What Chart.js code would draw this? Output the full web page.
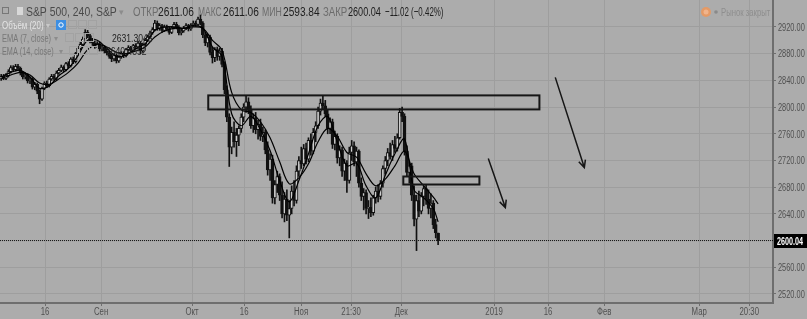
<!DOCTYPE html>
<html>
<head>
<meta charset="utf-8">
<script src="https://cdn.jsdelivr.net/npm/chart.js@4.4.0/dist/chart.umd.min.js"></script>
<style>
  html, body { margin: 0; padding: 0; background: #acacac; }
  #wrap { position: relative; width: 807px; height: 319px; }
</style>
</head>
<body>
<div id="wrap"><canvas id="chart"></canvas></div>
<script>
// S&P 500, 240 min bars (two per session)
const opens = [2842,2846,2843,2847,2853,2859,2856,2861,2858,2851,2845,2848,2839,2842,2830,2834,2824,2812,2828,2836,
  2832,2842,2846,2843,2851,2855,2860,2856,2865,2862,2872,2868,2880,2888,2894,2902,2912,2907,2899,2896,
  2891,2895,2887,2890,2884,2881,2876,2872,2878,2869,2875,2880,2877,2886,2889,2885,2892,2890,2896,2884,
  2894,2900,2905,2911,2916,2926,2918,2922,2915,2920,2917,2912,2919,2924,2920,2911,2914,2918,2922,2917,
  2923,2926,2924,2932,2926,2908,2896,2905,2882,2874,2886,2876,2884,2864,2826,2785,2740,2762,2748,2758,
  2768,2785,2800,2808,2795,2772,2784,2766,2774,2756,2762,2736,2706,2722,2664,2684,2696,2668,2640,2662,
  2638,2648,2674,2660,2704,2720,2715,2738,2722,2750,2734,2762,2772,2794,2806,2802,2790,2768,2778,2744,
  2756,2724,2736,2704,2716,2690,2732,2742,2718,2734,2686,2666,2672,2648,2650,2642,2664,2674,2666,2686,
  2708,2720,2732,2726,2744,2738,2754,2792,2786,2734,2702,2712,2668,2632,2660,2644,2666,2678,2662,2648,
  2656,2624,2611.06];
const highs = [2849,2849,2850,2856,2862,2862,2864,2864,2860,2853,2851,2850,2845,2844,2837,2836,2826,2830,2838,2839,
  2844,2849,2849,2854,2858,2863,2862,2867,2868,2874,2875,2882,2891,2897,2905,2916,2915,2909,2903,2899,
  2898,2897,2893,2892,2887,2884,2879,2880,2880,2877,2883,2883,2888,2892,2891,2894,2895,2899,2898,2896,
  2903,2908,2914,2919,2930,2929,2925,2924,2923,2923,2920,2921,2927,2927,2922,2917,2921,2925,2924,2925,
  2929,2929,2935,2938,2928,2912,2909,2908,2890,2889,2890,2888,2888,2868,2832,2790,2770,2778,2768,2772,
  2790,2805,2816,2814,2802,2790,2792,2780,2782,2770,2766,2748,2730,2728,2690,2704,2700,2688,2672,2676,
  2660,2682,2690,2712,2726,2740,2744,2746,2754,2760,2768,2778,2800,2812,2817,2810,2796,2784,2782,2764,
  2760,2742,2740,2722,2720,2740,2750,2748,2740,2736,2694,2678,2676,2660,2664,2668,2680,2684,2690,2712,
  2726,2738,2746,2750,2756,2760,2798,2800,2790,2742,2718,2716,2682,2668,2674,2672,2682,2684,2676,2670,
  2660,2632,2611.06];
const lows = [2840,2841,2841,2845,2851,2854,2854,2855,2848,2842,2842,2836,2835,2827,2826,2820,2805,2810,2826,2829,
  2830,2840,2840,2841,2849,2853,2853,2854,2859,2860,2865,2866,2878,2886,2892,2900,2904,2896,2893,2888,
  2889,2884,2884,2881,2878,2873,2868,2869,2866,2867,2873,2874,2875,2884,2882,2883,2887,2888,2880,2882,
  2892,2898,2903,2909,2914,2915,2915,2912,2913,2914,2909,2910,2917,2917,2908,2908,2912,2916,2914,2915,
  2921,2921,2922,2923,2904,2892,2890,2878,2866,2868,2870,2870,2860,2820,2778,2711,2730,2740,2726,2742,
  2762,2778,2792,2790,2768,2762,2760,2752,2750,2748,2730,2698,2690,2656,2655,2672,2660,2634,2628,2630,
  2604,2640,2652,2656,2696,2708,2712,2715,2718,2728,2730,2748,2768,2788,2796,2786,2760,2760,2738,2736,
  2716,2712,2696,2690,2672,2686,2720,2712,2696,2680,2660,2646,2640,2633,2636,2638,2656,2658,2662,2680,
  2700,2712,2722,2720,2732,2734,2752,2778,2728,2696,2686,2660,2622,2585,2636,2640,2652,2654,2640,2634,
  2618,2604,2593.84];
const closes = [2846,2843,2847,2853,2859,2856,2861,2858,2851,2845,2848,2839,2842,2830,2834,2824,2812,2828,2836,2832,
  2842,2846,2843,2851,2855,2860,2856,2865,2862,2872,2868,2880,2888,2894,2902,2912,2907,2899,2896,2891,
  2895,2887,2890,2884,2881,2876,2872,2878,2869,2875,2880,2877,2886,2889,2885,2892,2890,2896,2884,2894,
  2900,2905,2911,2916,2926,2918,2922,2915,2920,2917,2912,2919,2924,2920,2911,2914,2918,2922,2917,2923,
  2926,2924,2932,2926,2908,2896,2905,2882,2874,2886,2876,2884,2864,2826,2785,2740,2762,2748,2758,2768,
  2785,2800,2808,2795,2772,2784,2766,2774,2756,2762,2736,2706,2722,2664,2684,2696,2668,2640,2662,2638,
  2648,2674,2660,2704,2720,2715,2738,2722,2750,2734,2762,2772,2794,2806,2802,2790,2768,2778,2744,2756,
  2724,2736,2704,2716,2690,2732,2742,2718,2734,2686,2666,2672,2648,2650,2642,2664,2674,2666,2686,2708,
  2720,2732,2726,2744,2738,2754,2792,2786,2734,2702,2712,2668,2632,2660,2644,2666,2678,2662,2648,2656,
  2624,2612,2600.04];

// EMA readings, every 4th bar
const emaBars = [0,4,8,12,16,20,24,28,32,36,40,44,48,52,56,60,64,68,72,76,80,84,88,92,96,100,104,108,112,116,120,124,128,132,136,140,144,148,152,156,160,164,168,172,176,180,182];
const ema7 = [2845,2852,2855,2845,2828,2832,2847,2858,2877,2900,2900,2888,2876,2878,2887,2895,2915,2920,2920,2918,2922,2918,2890,2876,2790,2772,2786,2766,2735,2690,2658,2690,2730,2772,2786,2748,2712,2716,2682,2664,2698,2730,2752,2676,2664,2648,2628];
const ema14 = [2843,2848,2852,2848,2836,2834,2842,2852,2866,2886,2894,2890,2882,2880,2884,2890,2905,2914,2918,2918,2920,2918,2900,2885,2822,2796,2792,2778,2754,2718,2685,2694,2715,2748,2768,2756,2732,2725,2700,2682,2692,2712,2734,2700,2682,2665,2655];

const lastPrice = 2600.04;
const priceTicks = [2520, 2560, 2600, 2640, 2680, 2720, 2760, 2800, 2840, 2880, 2920];
const timeTicks = [18.25, 41.6, 79.5, 101.2, 124.9, 145.75, 166.6, 205.3, 227.8, 251.2, 290.75, 311.6];
const timeLabels = ["16", "Сен", "Окт", "16", "Ноя", "21:30", "Дек", "2019", "16", "Фев", "Мар", "20:30"];

// drawings (bar index, price)
const boxes = [[86.25, 2817.5, 224.2, 2796.5], [167.5, 2696, 199.2, 2684]];
const arrows = [[230.8, 2844.5, 242.9, 2709.5], [202.9, 2723, 210, 2649.5]];

const FONT = "'Liberation Sans', Arial, sans-serif";
const bars = closes.map((c, i) => i);

// narrow text, like the terminal font
function txt(ctx, t, x, y, sx, align) {
  ctx.save();
  ctx.translate(x, y);
  ctx.scale(sx, 1);
  ctx.textAlign = align || "left";
  ctx.fillText(t, 0, 0);
  ctx.restore();
}

const overlay = {
  id: "overlay",
  afterDatasetsDraw(chart) {
    const { ctx, scales: { x, y } } = chart;
    ctx.save();
    ctx.strokeStyle = "#161616";
    ctx.lineWidth = 2;
    boxes.forEach(b => {
      const x0 = x.getPixelForValue(b[0]), x1 = x.getPixelForValue(b[2]);
      const y0 = y.getPixelForValue(b[1]), y1 = y.getPixelForValue(b[3]);
      ctx.strokeRect(x0, y0, x1 - x0, y1 - y0);
    });
    ctx.lineWidth = 1.5;
    arrows.forEach(a => {
      const x0 = x.getPixelForValue(a[0]), y0 = y.getPixelForValue(a[1]);
      const x1 = x.getPixelForValue(a[2]), y1 = y.getPixelForValue(a[3]);
      const ang = Math.atan2(y1 - y0, x1 - x0);
      ctx.beginPath();
      ctx.moveTo(x0, y0);
      ctx.lineTo(x1, y1);
      ctx.moveTo(x1 - 8 * Math.cos(ang - 0.45), y1 - 8 * Math.sin(ang - 0.45));
      ctx.lineTo(x1, y1);
      ctx.lineTo(x1 - 8 * Math.cos(ang + 0.45), y1 - 8 * Math.sin(ang + 0.45));
      ctx.stroke();
    });
    ctx.restore();
  },
  afterDraw(chart) {
    const { ctx, scales: { x, y } } = chart;
    ctx.save();
    ctx.textBaseline = "middle";

    // axis labels
    ctx.font = "10px " + FONT;
    ctx.fillStyle = "#505050";
    priceTicks.forEach(v => txt(ctx, v.toFixed(2), 778, y.getPixelForValue(v) + 1, 0.74));
    timeTicks.forEach((v, i) => txt(ctx, timeLabels[i], x.getPixelForValue(v), 312, 0.78, "center"));

    // last price label on the axis
    const py = Math.round(y.getPixelForValue(lastPrice));
    ctx.fillStyle = "#000";
    ctx.fillRect(774, py - 7, 33, 14);
    ctx.fillStyle = "#fff";
    ctx.font = "bold 10px " + FONT;
    txt(ctx, lastPrice.toFixed(2), 777, py + 1, 0.72);

    // header
    ctx.textBaseline = "alphabetic";
    const seg = (t, px, py2, col, f, sx) => { ctx.font = f; ctx.fillStyle = col; txt(ctx, t, px, py2, sx); };
    ctx.strokeStyle = "#777";
    ctx.lineWidth = 1;
    ctx.strokeRect(2.5, 7.5, 6, 6);
    ctx.fillStyle = "#d8d8d8";
    ctx.fillRect(17, 7, 6, 8);
    const f1 = "13px " + FONT;
    seg("S&P 500, 240, S&P", 26, 16, "#4a4a4a", f1, 0.8);
    seg("▾", 119, 15, "#8c8c8c", "9px " + FONT, 1);
    seg("ОТКР", 133, 16, "#6c6c6c", f1, 0.74);
    seg("2611.06", 158, 16, "#1e1e1e", f1, 0.78);
    seg("МАКС", 198, 16, "#6c6c6c", f1, 0.65);
    seg("2611.06", 223, 16, "#1e1e1e", f1, 0.78);
    seg("МИН", 262, 16, "#6c6c6c", f1, 0.67);
    seg("2593.84", 283, 16, "#1e1e1e", f1, 0.78);
    seg("ЗАКР", 323, 16, "#6c6c6c", f1, 0.74);
    seg("2600.04", 348, 16, "#1e1e1e", f1, 0.7);
    seg("−11.02 (−0.42%)", 385, 16, "#1e1e1e", f1, 0.61);

    const f2 = "11px " + FONT;
    seg("Объём (20)", 2, 29, "#e4e4e4", f2, 0.72);
    seg("▾", 46, 28, "#c8c8c8", "8px " + FONT, 1);
    ctx.fillStyle = "#3d8fe3";
    ctx.fillRect(56, 20, 10, 10);
    ctx.strokeStyle = "#fff";
    ctx.beginPath(); ctx.arc(61, 25, 2.2, 0, Math.PI * 2); ctx.stroke();
    seg("EMA (7, close)", 2, 42, "#777", f2, 0.68);
    seg("▾", 54, 41, "#8c8c8c", "8px " + FONT, 1);
    seg("EMA (14, close)", 2, 55, "#777", f2, 0.66);
    seg("▾", 59, 54, "#8c8c8c", "8px " + FONT, 1);
    ctx.strokeStyle = "#a2a2a2";
    [[68, 20], [78, 20], [88, 20], [65, 33], [75, 33], [85, 33], [69, 46], [79, 46], [89, 46]].forEach(p => ctx.strokeRect(p[0] + 0.5, p[1] + 0.5, 8, 8));
    seg("2631.3046", 112, 42, "#1e1e1e", f2, 0.78);
    seg("2640.4552", 106, 55, "#1e1e1e", f2, 0.78);

    // market status
    ctx.fillStyle = "#e49a66";
    ctx.beginPath(); ctx.arc(706, 12, 5, 0, Math.PI * 2); ctx.fill();
    ctx.fillStyle = "#f0b48c";
    ctx.beginPath(); ctx.arc(706, 12, 2.5, 0, Math.PI * 2); ctx.fill();
    ctx.fillStyle = "#8a8a8a";
    ctx.beginPath(); ctx.arc(716, 12, 1.8, 0, Math.PI * 2); ctx.fill();
    seg("Рынок закрыт", 721, 16, "#8e8e8e", f2, 0.7);
    ctx.restore();
  }
};

new Chart(document.getElementById("chart"), {
  type: "bar",
  data: {
    datasets: [
      { type: "line", data: emaBars.map((b, i) => ({ x: b, y: ema7[i] })), borderColor: "#000", borderWidth: 1.2, pointRadius: 0, tension: 0.35 },
      { type: "line", data: emaBars.map((b, i) => ({ x: b, y: ema14[i] })), borderColor: "#000", borderWidth: 1.2, pointRadius: 0, tension: 0.35 },
      {
        data: bars.map(i => ({ x: i, y: [opens[i], closes[i]] })),
        grouped: false, barThickness: 3, minBarLength: 1,
        backgroundColor: c => closes[c.dataIndex] >= opens[c.dataIndex] ? "#cdcdcd" : "#111",
        borderColor: "#111", borderWidth: 1, borderSkipped: false
      },
      {
        data: bars.map(i => ({ x: i, y: [lows[i], highs[i]] })),
        grouped: false, barThickness: 1, backgroundColor: "#111", borderWidth: 0
      },
      { type: "line", data: [{ x: -0.5, y: lastPrice }, { x: 321.5, y: lastPrice }], borderColor: "#111", borderWidth: 1, borderDash: [1, 1], pointRadius: 0 }
    ]
  },
  options: {
    responsive: true,
    maintainAspectRatio: false,
    animation: false,
    layout: { padding: 0 },
    plugins: { legend: { display: false }, tooltip: { enabled: false } },
    scales: {
      x: {
        type: "linear", min: -0.5, max: 321.5, offset: false,
        grid: { color: "#9e9e9e", offset: false, tickLength: 3, tickColor: "#6e6e6e" },
        border: { color: "#6e6e6e", width: 2 },
        ticks: { display: false },
        afterBuildTicks: s => { s.ticks = timeTicks.map(v => ({ value: v })); },
        afterFit: s => { s.height = 16; }
      },
      y: {
        type: "linear", position: "right", min: 2506.5, max: 2960.4,
        grid: { color: "#9e9e9e", tickLength: 3, tickColor: "#6e6e6e" },
        border: { color: "#6e6e6e", width: 2 },
        ticks: { display: false },
        afterBuildTicks: s => { s.ticks = priceTicks.map(v => ({ value: v })); },
        afterFit: s => { s.width = 34; }
      }
    }
  },
  plugins: [overlay]
});
</script>
</body>
</html>
